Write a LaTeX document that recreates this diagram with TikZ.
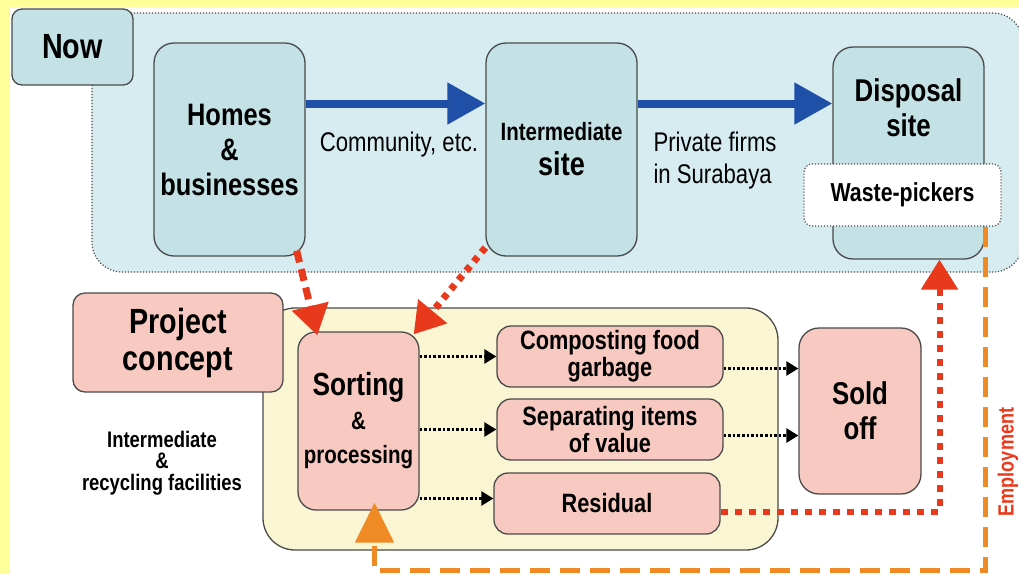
\documentclass[tikz,border=0pt]{standalone}
\usepackage{fontspec}
\setmainfont{Liberation Sans}[FakeStretch=0.82]
\usetikzlibrary{positioning,arrows.meta,shapes}

\definecolor{frameyellow}{HTML}{FFFF99}
\definecolor{nowblue}{HTML}{D6ECF1}
\definecolor{siteblue}{HTML}{C4E2E6}
\definecolor{projpink}{HTML}{F7C9C0}
\definecolor{facyellow}{HTML}{FAF6D3}
\definecolor{edgegray}{HTML}{4A4A4A}
\definecolor{flowblue}{HTML}{1F4FA6}
\definecolor{flowred}{HTML}{E8391C}
\definecolor{floworange}{HTML}{F08A24}

\begin{document}
\begin{tikzpicture} [x=1pt,y=-1pt,
    sitebox/.style={draw=edgegray,line width=1.3pt,fill=siteblue,rounded corners=20pt,align=center,
        font=\bfseries\fontsize{31}{35}\selectfont},
    pinkbox/.style={draw=edgegray,line width=1.3pt,fill=projpink,rounded corners=14pt,align=center,
        font=\bfseries\fontsize{26.5}{27}\selectfont},
    flowtext/.style={font=\fontsize{27}{32}\selectfont},
    bluearrow/.style={flowblue,line width=8pt,-{Triangle[length=38pt,width=40pt]}},
    redarrow/.style={flowred,line width=7pt,-{Triangle[length=30pt,width=36pt]}},
    blackarrow/.style={black,line width=2.6pt,dash pattern=on 2.6pt off 2pt,-{Triangle[length=12pt,width=14pt]}}]
    \useasboundingbox (0,0) rectangle (1019,574);
    \fill[frameyellow] (0,0) rectangle (1019,574);
    \fill[white] (10,7) rectangle (1019,574);

    % now
    \node[draw=edgegray,line width=1.2pt,dash pattern=on 1.2pt off 1.8pt,fill=nowblue,rounded corners=30pt,
        minimum width=931pt,minimum height=259pt] (nowarea) at (557.5,142.5) {};
    \node[draw=edgegray,line width=1.3pt,fill=siteblue,rounded corners=10pt,minimum width=121pt,minimum height=76pt,
        font=\bfseries\fontsize{35}{38}\selectfont] (now) at (72.5,47) {Now};
    \node[sitebox,minimum width=151pt,minimum height=213pt] (homes) at (229.5,149.5) {Homes\\\&\\businesses};
    \node[sitebox,minimum width=151pt,minimum height=213pt] (inter) at (561.5,149.5)
        {{\fontsize{25}{33}\selectfont Intermediate}\\{\fontsize{33}{33}\selectfont site}};
    \node[sitebox,minimum width=151pt,minimum height=212pt] (disposal) at (908.5,153) {};
    \node[font=\bfseries\fontsize{31.5}{35}\selectfont,align=center] (disposaltext) at (908.5,108) {Disposal\\site};
    \node[draw=edgegray,line width=1.2pt,dash pattern=on 1.2pt off 1.8pt,fill=white,rounded corners=8pt,
        minimum width=197pt,minimum height=62pt,font=\bfseries\fontsize{26}{28}\selectfont] (pickers) at (902.5,195) {Waste-pickers};
    \node[flowtext] (community) at (399,145) {Community, etc.};
    \node[flowtext,align=left,anchor=west] (firms) at (650,161) {Private firms\\in Surabaya};

    \draw[bluearrow] ([yshift=46pt]homes.east) coordinate (b1) -- (b1 -| inter.west);
    \draw[bluearrow] ([yshift=46pt]inter.east) coordinate (b2) -- (b2 -| disposal.west);

    % project concept
    \node[draw=edgegray,line width=1.3pt,fill=facyellow,rounded corners=32pt,
        minimum width=515pt,minimum height=242pt] (facility) at (520.5,429) {};
    \node[pinkbox,rounded corners=12pt,minimum width=210pt,minimum height=99pt,
        font=\bfseries\fontsize{35}{37}\selectfont] (project) at (178,342.5) {Project\\concept};
    \node[pinkbox,rounded corners=18pt,minimum width=121pt,minimum height=178pt,
        font=\bfseries\fontsize{25}{34}\selectfont] (sorting) at (358.5,421) {{\fontsize{32}{34}\selectfont Sorting}\\\&\\processing};
    \node[pinkbox,minimum width=226pt,minimum height=61pt] (compost) at (610,356.5) {Composting food\\garbage};
    \node[pinkbox,minimum width=226pt,minimum height=61pt] (separate) at (610,429.5) {Separating items\\of value};
    \node[pinkbox,minimum width=226pt,minimum height=61pt] (residual) at (607,503.5) {Residual};
    \node[pinkbox,rounded corners=20pt,minimum width=122pt,minimum height=166pt,
        font=\bfseries\fontsize{31.5}{35}\selectfont] (sold) at (860,411) {Sold\\off};
    \node[align=center,font=\bfseries\fontsize{22.5}{21.5}\selectfont] (facilities) at (162,463)
        {Intermediate\\\&\\recycling facilities};
    \node[rotate=90,flowred,font=\bfseries\fontsize{22}{26}\selectfont] (employment) at (1008,462) {Employment};

    \coordinate (k0) at ([yshift=5pt]residual.west);
    \draw[blackarrow] (sorting.east |- compost) -- (compost.west);
    \draw[blackarrow] (sorting.east |- separate) -- (separate.west);
    \draw[blackarrow] (sorting.east |- k0) -- (k0);
    \draw[blackarrow] ([yshift=-12pt]compost.east) coordinate (k1) -- (k1 -| sold.west);
    \draw[blackarrow] ([yshift=-6pt]separate.east) coordinate (k2) -- (k2 -| sold.west);

    \draw[redarrow,dash pattern=on 12pt off 7pt] ([xshift=-9pt,yshift=6pt]homes.south east) -- ([xshift=20pt,yshift=-4pt]sorting.north west);
    \draw[redarrow,dash pattern=on 6pt off 6pt] ([yshift=9pt]inter.south west) -- ([xshift=-6pt,yshift=-3pt]sorting.north east);
    \draw[redarrow,line width=6pt,dash pattern=on 7pt off 7pt] ([yshift=-8pt]residual.east) -| ([xshift=31pt]disposal.south);
    \draw[floworange,line width=5pt,dash pattern=on 20pt off 10pt,-{Triangle[length=40pt,width=38pt]}]
        ([xshift=-16pt]pickers.south east) -- ++(0,344) -| ([xshift=16pt,yshift=8pt]sorting.south);
\end{tikzpicture}
\end{document}
